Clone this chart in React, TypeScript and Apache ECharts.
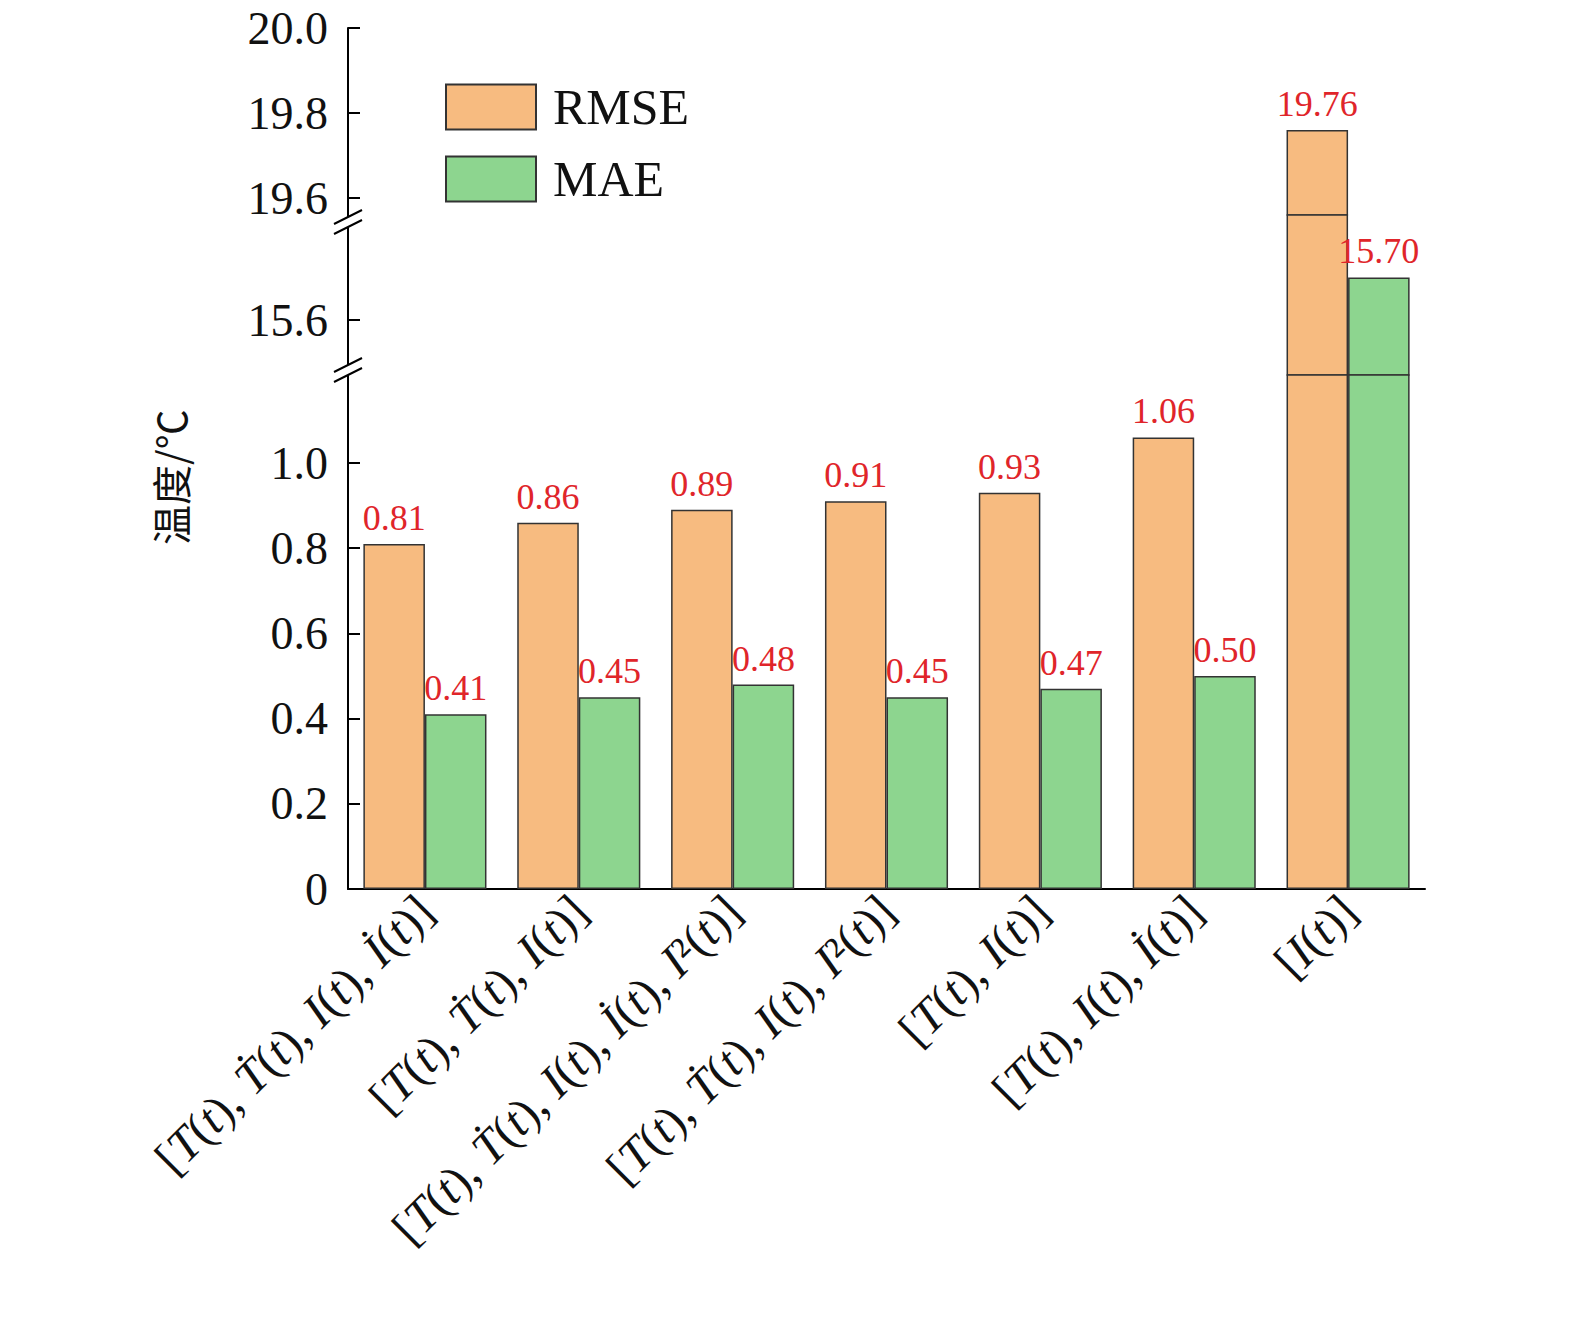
import { useEffect, useRef } from 'react';
import * as echarts from 'echarts';

const categories = [
  '[{i|T}({i|t}), {i|Ṫ}({i|t}), {i|I}({i|t}), {i|İ}({i|t})]',
  '[{i|T}({i|t}), {i|Ṫ}({i|t}), {i|I}({i|t})]',
  '[{i|T}({i|t}), {i|Ṫ}({i|t}), {i|I}({i|t}), {i|İ}({i|t}), {i|I}²({i|t})]',
  '[{i|T}({i|t}), {i|Ṫ}({i|t}), {i|I}({i|t}), {i|I}²({i|t})]',
  '[{i|T}({i|t}), {i|I}({i|t})]',
  '[{i|T}({i|t}), {i|I}({i|t}), {i|İ}({i|t})]',
  '[{i|I}({i|t})]',
];
const rmse = [0.81, 0.86, 0.89, 0.91, 0.93, 1.06, 19.76];
const mae = [0.41, 0.45, 0.48, 0.45, 0.47, 0.5, 15.7];

// three stacked y ranges (broken axis)
const ranges = [
  { top: 28, height: 187, min: 19.56, max: 20.0, ticks: [19.6, 19.8, 20.0] },
  { top: 215, height: 160, min: 15.4709, max: 15.8465, ticks: [15.6] },
  { top: 375, height: 514, min: 0, max: 1.2066, ticks: [0, 0.2, 0.4, 0.6, 0.8, 1.0] },
];

const FONT = 'Liberation Serif';

const App = () => {
  const ref = useRef<HTMLDivElement | null>(null);

  useEffect(() => {
    document.body.style.margin = '0';
    if (!ref.current) return;
    const chart = echarts.init(ref.current, null, { renderer: 'svg' });

    const grids = ranges.map((r) => ({ left: 348, right: 150, top: r.top, height: r.height }));
    const xAxes = ranges.map((_, i) => ({
      type: 'category',
      gridIndex: i,
      data: categories,
      show: i === 2,
      axisLine: { lineStyle: { color: '#000', width: 2 } },
      axisTick: { show: false },
      axisLabel: {
        rotate: 45,
        interval: 0,
        fontFamily: FONT,
        fontSize: 48,
        color: '#111',
        margin: 14,
        rich: { i: { fontStyle: 'italic', fontFamily: FONT, fontSize: 48, color: '#111' } },
      },
    }));
    const yAxes = ranges.map((r, i) => ({
      type: 'value',
      gridIndex: i,
      min: r.min,
      max: r.max,
      splitLine: { show: false },
      axisLine: { show: true, lineStyle: { color: '#000', width: 2 } },
      axisTick: { show: true, inside: true, length: 12, customValues: r.ticks, lineStyle: { width: 2 } },
      axisLabel: {
        customValues: r.ticks,
        fontFamily: FONT,
        fontSize: 46,
        color: '#111',
        margin: 20,
        formatter: (v: number) => (v === 0 ? '0' : v.toFixed(1)),
      },
    }));

    const series: any[] = [];
    ranges.forEach((r, i) => {
      [
        { name: 'RMSE', data: rmse, color: '#F7BB80' },
        { name: 'MAE', data: mae, color: '#8DD58F' },
      ].forEach((s) => {
        series.push({
          name: s.name,
          type: 'bar',
          xAxisIndex: i,
          yAxisIndex: i,
          data: s.data,
          barWidth: '40%',
          barGap: '0%',
          clip: true,
          itemStyle: { color: s.color, borderColor: '#333', borderWidth: 1.5 },
          label: {
            show: true,
            position: 'top',
            distance: 8,
            color: '#E0252A',
            fontFamily: FONT,
            fontSize: 36,
            formatter: (p: any) => (p.value >= r.min && p.value <= r.max - 0.02 ? p.value.toFixed(2) : ''),
          },
        });
      });
    });

    const brk = (y: number) => [
      { type: 'rect', shape: { x: 336, y: y - 5, width: 24, height: 10 }, style: { fill: '#fff' }, z: 100 },
      { type: 'line', shape: { x1: 334, y1: y + 2, x2: 362, y2: y - 12 }, style: { stroke: '#000', lineWidth: 2 }, z: 101 },
      { type: 'line', shape: { x1: 334, y1: y + 12, x2: 362, y2: y - 2 }, style: { stroke: '#000', lineWidth: 2 }, z: 101 },
    ];

    chart.setOption({
      animation: false,
      grid: grids,
      xAxis: xAxes,
      yAxis: yAxes,
      series,
      legend: {
        data: ['RMSE', 'MAE'],
        orient: 'vertical',
        left: 440,
        top: 77,
        icon: 'rect',
        itemWidth: 90,
        itemHeight: 45,
        itemGap: 22,
        textStyle: { fontFamily: FONT, fontSize: 50, color: '#111', padding: [0, 0, 0, 12] },
      },
      graphic: [
        ...brk(222),
        ...brk(370),
        {
          type: 'text',
          x: 150,
          y: 545,
          rotation: Math.PI / 2,
          style: { text: '温度/℃', font: '40px "Noto Sans CJK SC"', fill: '#111' },
        },
      ],
    });

    return () => chart.dispose();
  }, []);

  return <div ref={ref} style={{ width: '1575px', height: '1336px' }} />;
};

export default App;
